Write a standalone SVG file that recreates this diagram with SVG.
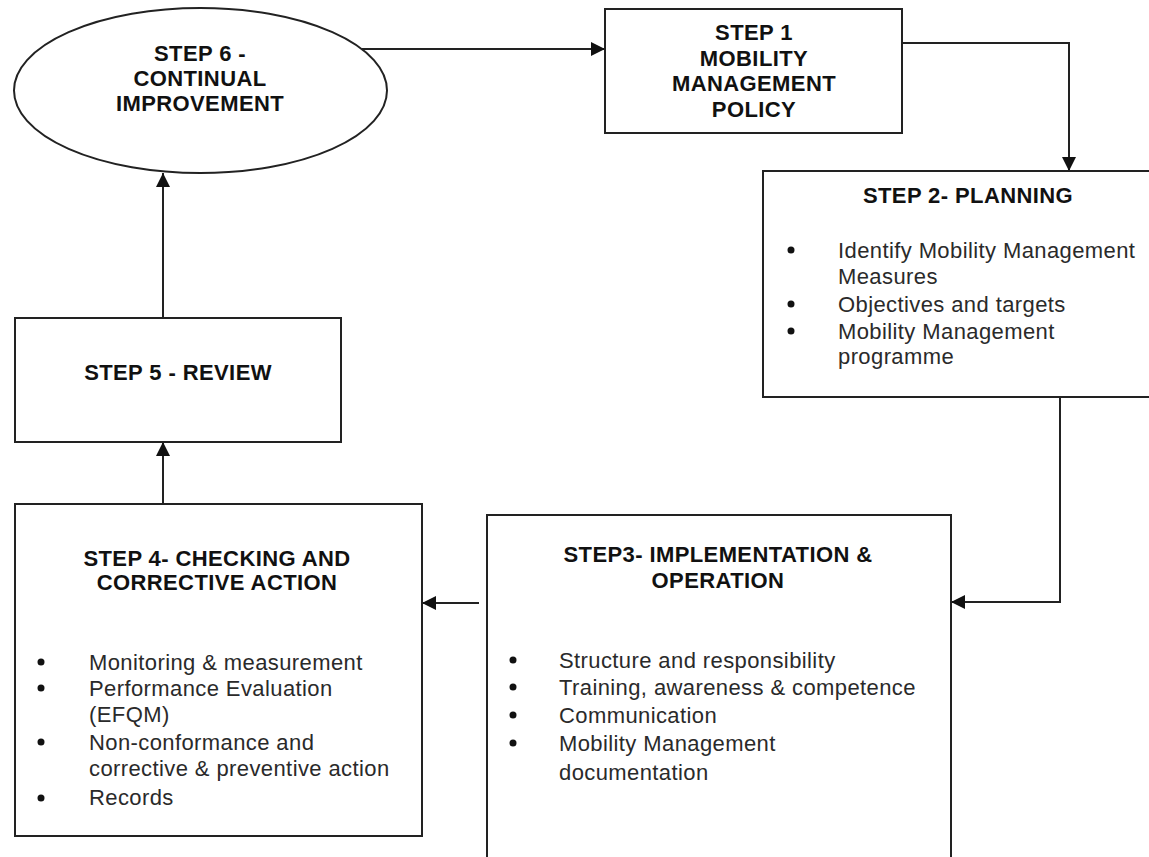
<svg xmlns="http://www.w3.org/2000/svg" width="1149" height="857" viewBox="0 0 1149 857">
<defs>
<style>
.box{fill:#fff;stroke:#222;stroke-width:2}
.t{font-family:"Liberation Sans",Arial,sans-serif;font-size:22px;font-weight:bold;fill:#111;text-anchor:middle;letter-spacing:0.4px}
.b{font-family:"Liberation Sans",Arial,sans-serif;font-size:22px;fill:#2a2a2a;letter-spacing:0.4px}
.dot{fill:#111}
.c{fill:none;stroke:#222;stroke-width:2}
</style>
<marker id="ah" viewBox="0 0 10 10" refX="10" refY="5" markerWidth="14" markerHeight="14" markerUnits="userSpaceOnUse" orient="auto">
<path d="M0,0 L10,5 L0,10 z" fill="#111"/>
</marker>
</defs>
<rect width="1149" height="857" fill="#fff"/>
<g id="connectors">
<path class="c" d="M362,49 H605" marker-end="url(#ah)"/>
<path class="c" d="M902,43 H1069 V171" marker-end="url(#ah)"/>
<path class="c" d="M1060,397 V602 H951" marker-end="url(#ah)"/>
<path class="c" d="M479,603 H422" marker-end="url(#ah)"/>
<path class="c" d="M163,504 V442" marker-end="url(#ah)"/>
<path class="c" d="M163,318 V173" marker-end="url(#ah)"/>
</g>
<g id="step6">
<ellipse class="box" cx="200.5" cy="90.5" rx="186.5" ry="82.5"/>
<text class="t" x="200" y="61">STEP 6 -</text>
<text class="t" x="200" y="86">CONTINUAL</text>
<text class="t" x="200" y="111">IMPROVEMENT</text>
</g>
<g id="step1">
<rect class="box" x="605" y="9" width="297" height="124"/>
<text class="t" x="754" y="40">STEP 1</text>
<text class="t" x="754" y="66">MOBILITY</text>
<text class="t" x="754" y="91">MANAGEMENT</text>
<text class="t" x="754" y="117">POLICY</text>
</g>
<g id="step2">
<rect class="box" x="763" y="171" width="400" height="226"/>
<text class="t" x="968" y="203">STEP 2- PLANNING</text>
<circle class="dot" cx="791" cy="250" r="3.5"/>
<circle class="dot" cx="791" cy="304" r="3.5"/>
<circle class="dot" cx="791" cy="331" r="3.5"/>
<text class="b" x="838" y="258">Identify Mobility Management</text>
<text class="b" x="838" y="284">Measures</text>
<text class="b" x="838" y="312">Objectives and targets</text>
<text class="b" x="838" y="339">Mobility Management</text>
<text class="b" x="838" y="364">programme</text>
</g>
<g id="step3">
<rect class="box" x="487" y="515" width="464" height="360"/>
<text class="t" x="718" y="562">STEP3- IMPLEMENTATION &amp;</text>
<text class="t" x="718" y="588">OPERATION</text>
<circle class="dot" cx="513" cy="660" r="3.5"/>
<circle class="dot" cx="513" cy="687" r="3.5"/>
<circle class="dot" cx="513" cy="715" r="3.5"/>
<circle class="dot" cx="513" cy="743" r="3.5"/>
<text class="b" x="559" y="668">Structure and responsibility</text>
<text class="b" x="559" y="695">Training, awareness &amp; competence</text>
<text class="b" x="559" y="723">Communication</text>
<text class="b" x="559" y="751">Mobility Management</text>
<text class="b" x="559" y="780">documentation</text>
</g>
<g id="step4">
<rect class="box" x="15" y="504" width="407" height="332"/>
<text class="t" x="217" y="566">STEP 4- CHECKING AND</text>
<text class="t" x="217" y="590">CORRECTIVE ACTION</text>
<circle class="dot" cx="41" cy="662" r="3.5"/>
<circle class="dot" cx="41" cy="688" r="3.5"/>
<circle class="dot" cx="41" cy="742" r="3.5"/>
<circle class="dot" cx="41" cy="798" r="3.5"/>
<text class="b" x="89" y="670">Monitoring &amp; measurement</text>
<text class="b" x="89" y="696">Performance Evaluation</text>
<text class="b" x="89" y="722">(EFQM)</text>
<text class="b" x="89" y="750">Non-conformance and</text>
<text class="b" x="89" y="776">corrective &amp; preventive action</text>
<text class="b" x="89" y="805">Records</text>
</g>
<g id="step5">
<rect class="box" x="15" y="318" width="326" height="124"/>
<text class="t" x="178" y="380">STEP 5 - REVIEW</text>
</g>
</svg>
